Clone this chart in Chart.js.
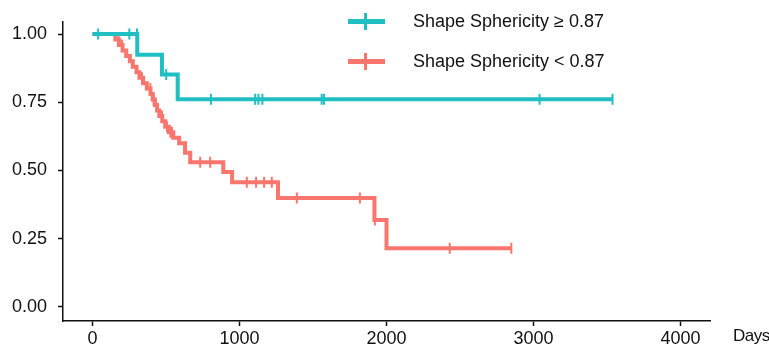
<!DOCTYPE html>
<html>
<head>
<meta charset="utf-8">
<script src="https://cdn.jsdelivr.net/npm/chart.js@4/dist/chart.umd.min.js"></script>
<style>
body { margin: 0; background: #fff; }
#wrap { position: relative; width: 769px; height: 348px; }
.key { position: absolute; left: 348px; width: 37px; height: 5px; }
.key span { position: absolute; left: 16px; top: -6px; width: 3px; height: 17px; background: inherit; }
.keyText { position: absolute; left: 413px; font: 18px "Liberation Sans", Arial, sans-serif; color: #111; line-height: 20px; }
#days { position: absolute; left: 733px; top: 326px; font: 17px "Liberation Sans", Arial, sans-serif; color: #111; letter-spacing: -0.5px; }
</style>
</head>
<body>
<div id="wrap">
    <canvas id="kmChart"></canvas>
    <div class="key" style="top:19px;background:#1fbfc3"><span></span></div>
    <div class="keyText" style="top:11px">Shape Sphericity ≥ 0.87</div>
    <div class="key" style="top:59px;background:#f8766d"><span></span></div>
    <div class="keyText" style="top:51px">Shape Sphericity &lt; 0.87</div>
    <div id="days">Days</div>
</div>
<script>
// ==========================
// DATA
// ==========================

const seriesNames = [
    "Shape Sphericity ≥ 0.87",
    "Shape Sphericity < 0.87"
];

// high sphericity group
const highEventDays = [305, 473, 580];
const highSurvival = [0.924, 0.852, 0.761];
const highCensorDays = [
    39, 251, 303, 502, 806, 1107, 1129, 1156,
    1559, 1575, 3041, 3537
];

// low sphericity group
const lowEventDays = [
    156, 180, 205, 230, 255, 275, 300, 320, 345, 370,
    395, 410, 425, 440, 455, 475, 495, 520, 550, 590,
    630, 665, 890, 950, 1262, 1918, 2000
];
const lowSurvival = [
    0.98, 0.96, 0.94, 0.92, 0.90, 0.88, 0.86, 0.84, 0.82, 0.80,
    0.78, 0.76, 0.74, 0.72, 0.70, 0.68, 0.66, 0.64, 0.62, 0.60,
    0.565, 0.53, 0.494, 0.457, 0.399, 0.318, 0.215
];
const lowCensorDays = [
    178, 201, 337, 394, 416, 473, 507, 530, 541, 733,
    801, 1050, 1113, 1168, 1220, 1390, 1819, 1921, 2430, 2849
];

const xTicks = [0, 1000, 2000, 3000, 4000];
const yTicks = [0, 0.25, 0.5, 0.75, 1];

const colors = ["#1fbfc3", "#f8766d"];

// ==========================
// HELPERS
// ==========================

// survival value at day t (step function)
function survAt(days, surv, t) {
    let s = 1;
    days.forEach((d, i) => {
        if (d <= t) s = surv[i];
    });
    return s;
}

function curve(days, surv, censors) {
    let pts = [{ x: 0, y: 1 }];
    days.forEach((d, i) => pts.push({ x: d, y: surv[i] }));
    let last = censors[censors.length - 1];
    pts.push({ x: last, y: survAt(days, surv, last) });
    return pts;
}

function marks(days, surv, censors) {
    return censors.map(c => ({ x: c, y: survAt(days, surv, c) }));
}

// ==========================
// CHART
// ==========================

const lineSet = (label, data, color, order) => ({
    label: label,
    data: data,
    borderColor: color,
    borderWidth: 4,
    stepped: true,
    pointRadius: 0,
    fill: false,
    order: order
});

const markSet = (label, data, color, order) => ({
    type: "scatter",
    label: label,
    data: data,
    showLine: false,
    pointStyle: "line",
    rotation: 90,
    pointRadius: 5.5,
    borderWidth: 2,
    borderColor: color,
    backgroundColor: color,
    order: order
});

const axisFont = { family: "'Liberation Sans', Arial, sans-serif", size: 18 };

new Chart(document.getElementById("kmChart"), {
    type: "line",
    data: {
        datasets: [
            lineSet(seriesNames[0], curve(highEventDays, highSurvival, highCensorDays), colors[0], 1),
            markSet(seriesNames[0], marks(highEventDays, highSurvival, highCensorDays), colors[0], 0),
            lineSet(seriesNames[1], curve(lowEventDays, lowSurvival, lowCensorDays), colors[1], 3),
            markSet(seriesNames[1], marks(lowEventDays, lowSurvival, lowCensorDays), colors[1], 2)
        ]
    },
    options: {
        responsive: true,
        maintainAspectRatio: false,
        animation: false,
        layout: {
            padding: { top: 20, right: 59, left: 0, bottom: 0 }
        },
        plugins: {
            legend: { display: false },
            tooltip: { enabled: false }
        },
        scales: {
            x: {
                type: "linear",
                min: -200,
                max: 4200,
                afterBuildTicks: s => { s.ticks = xTicks.map(v => ({ value: v })); },
                afterFit: s => { s.height = 27; },
                border: { display: true, color: "#111", width: 1.5 },
                grid: {
                    drawOnChartArea: false,
                    drawTicks: true,
                    tickLength: 5,
                    tickColor: "#111",
                    tickWidth: 1.5
                },
                ticks: {
                    color: "#111",
                    font: axisFont,
                    padding: 2,
                    maxRotation: 0,
                    callback: v => String(v)
                }
            },
            y: {
                min: -0.052,
                max: 1.045,
                afterBuildTicks: s => { s.ticks = yTicks.map(v => ({ value: v })); },
                afterFit: s => { s.width = 63; },
                border: { display: true, color: "#111", width: 1.5 },
                grid: {
                    drawOnChartArea: false,
                    drawTicks: true,
                    tickLength: 5,
                    tickColor: "#111",
                    tickWidth: 1.5
                },
                ticks: {
                    color: "#111",
                    font: axisFont,
                    padding: 11,
                    callback: v => Number(v).toFixed(2)
                }
            }
        }
    }
});
</script>
</body>
</html>
